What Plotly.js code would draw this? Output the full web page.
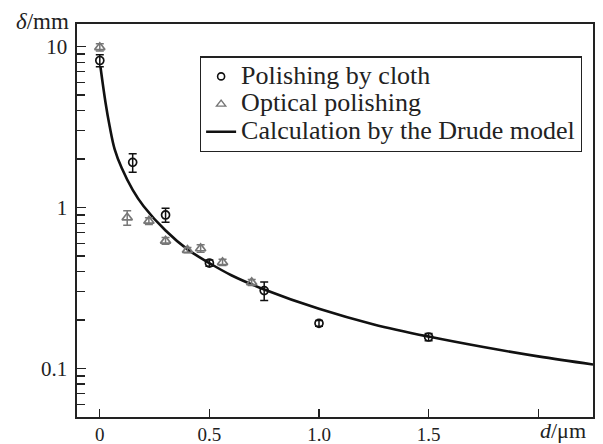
<!DOCTYPE html>
<html>
<head>
<meta charset="utf-8">
<script src="https://cdn.plot.ly/plotly-3.0.1.min.js"></script>
<style>html,body{margin:0;padding:0;background:#fff;}#chart{width:603px;height:444px;}</style>
</head>
<body>
<div id="chart"></div>
<script>
// Polishing by cloth (circles)
var clothX = [0, 0.15, 0.3, 0.5, 0.75, 1.0, 1.5];
var clothY = [8.2, 1.91, 0.90, 0.452, 0.305, 0.191, 0.157];
var clothErr = [0.7, 0.25, 0.09, 0.02, 0.04, 0.008, 0.008];

// Optical polishing (triangles)
var optX = [0, 0.125, 0.224, 0.3, 0.4, 0.46, 0.56, 0.693];
var optY = [9.9, 0.867, 0.826, 0.621, 0.544, 0.557, 0.457, 0.343];
var optErr = [0.5, 0.09, 0.04, 0.03, 0.02, 0.03, 0.02, 0.015];

// Drude model curve
var drudeX = [0.003, 0.026, 0.045, 0.068, 0.1, 0.15, 0.2, 0.3, 0.4, 0.5, 0.6, 0.75, 1.0, 1.25, 1.5, 1.75, 2.0, 2.25];
var drudeY = [7.5, 4.5, 3.2, 2.3, 1.76, 1.29, 1.02, 0.72, 0.55, 0.452, 0.38, 0.31, 0.235, 0.188, 0.158, 0.136, 0.119, 0.106];

var xTickVals = [0, 0.5, 1.0, 1.5, 2.0];
var xTickText = ['0', '0.5', '1.0', '1.5', ''];
var yTickVals = [0.1, 1, 10];
var yTickText = ['0.1', '1', '10'];
var yMinorVals = [0.06, 0.07, 0.08, 0.09, 0.2, 0.3, 0.4, 0.5, 0.6, 0.7, 0.8, 0.9, 2, 3, 4, 5, 6, 7, 8, 9];

var legendNames = ['Polishing by cloth', 'Optical polishing', 'Calculation by the Drude model'];

var FONT = 'Liberation Serif, Times New Roman, serif';
function big(s) { return '<span style="font-size:26px">' + s + '</span>'; }

var traces = [
  {x: drudeX, y: drudeY, mode: 'lines', line: {color: '#111', width: 2.6, shape: 'spline'}, showlegend: false, hoverinfo: 'skip'},
  {x: clothX, y: clothY, mode: 'markers', marker: {symbol: 'circle-open', size: 8, color: '#111', line: {width: 1.7}},
   error_y: {type: 'data', array: clothErr, visible: true, color: '#111', thickness: 1.5, width: 4}, showlegend: false},
  {x: optX, y: optY, mode: 'markers', marker: {symbol: 'triangle-up-open', size: 9, color: '#777', line: {width: 1.7}},
   error_y: {type: 'data', array: optErr, visible: true, color: '#777', thickness: 1.5, width: 4}, showlegend: false},
  {x: [null], y: [null], mode: 'markers', name: big(legendNames[0]), marker: {symbol: 'circle-open', size: 7, color: '#111', line: {width: 1.6}}},
  {x: [null], y: [null], mode: 'markers', name: big(legendNames[1]), marker: {symbol: 'triangle-up-open', size: 8, color: '#777', line: {width: 1.4}}},
  {x: [null], y: [null], mode: 'lines', name: big(legendNames[2]), line: {color: '#111', width: 2.6}}
];

var layout = {
  width: 603, height: 444,
  margin: {l: 77, r: 10, t: 24, b: 27},
  paper_bgcolor: '#fff', plot_bgcolor: '#fff',
  font: {family: FONT, size: 19, color: '#222'},
  showlegend: true,
  legend: {x: 0.238, y: 0.918, xanchor: 'left', yanchor: 'top', bordercolor: '#222', borderwidth: 1.3,
           bgcolor: '#fff', font: {family: FONT, size: 19, color: '#222'}, tracegroupgap: 0, itemwidth: 30},
  xaxis: {
    range: [-0.104, 2.25], showgrid: false, zeroline: false,
    showline: true, linecolor: '#222', linewidth: 1.6, mirror: true,
    ticks: 'inside', ticklen: 8, tickwidth: 1.3, tickcolor: '#222',
    tickmode: 'array', tickvals: xTickVals, ticktext: xTickText,
    tickfont: {family: FONT, size: 19, color: '#222'}
  },
  yaxis: {
    type: 'log', range: [Math.log10(0.05), 1.1405], showgrid: false, zeroline: false,
    showline: true, linecolor: '#222', linewidth: 1.6, mirror: true,
    ticks: 'inside', ticklen: 9, tickwidth: 1.3, tickcolor: '#222',
    tickmode: 'array', tickvals: yTickVals, ticktext: yTickText,
    ticklabelstandoff: 4,
    tickfont: {family: FONT, size: 21, color: '#222'},
    minor: {tickmode: 'array', tickvals: yMinorVals, ticks: 'inside', ticklen: 8, tickwidth: 1.3, tickcolor: '#222'}
  },
  annotations: [
    {text: '<i>δ</i>/mm', xref: 'paper', yref: 'paper', x: 0, y: 1, xanchor: 'right', yanchor: 'middle',
     xshift: -6, yshift: 3, showarrow: false, font: {family: FONT, size: 23, color: '#222'}},
    {text: '<i>d</i>/μm', xref: 'paper', yref: 'paper', x: 1, y: 0, xanchor: 'right', yanchor: 'middle',
     xshift: -5, yshift: -13, showarrow: false, font: {family: FONT, size: 22, color: '#222'}}
  ]
};

Plotly.newPlot('chart', traces, layout, {displayModeBar: false, staticPlot: true});
</script>
</body>
</html>
